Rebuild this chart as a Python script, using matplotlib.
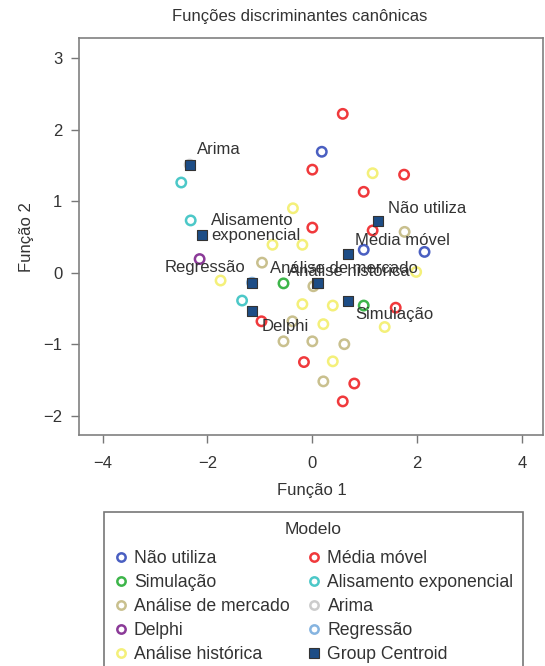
import matplotlib
matplotlib.use("Agg")
import matplotlib.pyplot as plt
from matplotlib.lines import Line2D

plt.rcParams['font.family'] = ['Liberation Sans', 'DejaVu Sans']

# group scores (Função 1, Função 2)
nao_utiliza_x = [0.18, 0.98, 2.14]
nao_utiliza_y = [1.69, 0.32, 0.29]
media_movel_x = [0.58, 0.00, 1.75, 0.98, 0.00, 1.15, -0.97, 1.59, -0.16, 0.80, 0.58]
media_movel_y = [2.22, 1.44, 1.37, 1.13, 0.63, 0.59, -0.68, -0.49, -1.25, -1.55, -1.80]
simulacao_x = [-0.55, 0.98]
simulacao_y = [-0.15, -0.46]
alisamento_x = [-2.50, -2.32, -1.34]
alisamento_y = [1.26, 0.73, -0.39]
mercado_x = [1.76, -0.96, 0.02, -0.38, -0.55, 0.00, 0.61, 0.21]
mercado_y = [0.57, 0.14, -0.19, -0.68, -0.96, -0.96, -1.00, -1.52]
arima_x = [-2.34]
arima_y = [1.51]
delphi_x = [-2.15]
delphi_y = [0.19]
regressao_x = [-1.15]
regressao_y = [-0.14]
historica_x = [-0.37, 1.15, -0.76, -0.19, -1.75, -0.19, 0.39, 0.21, 0.39, 1.38, 1.98]
historica_y = [0.90, 1.39, 0.39, 0.39, -0.11, -0.44, -0.46, -0.72, -1.24, -0.76, 0.01]

# group centroids
centroid_names = ['Arima', 'Alisamento\nexponencial', 'Não utiliza', 'Média móvel',
                  'Regressão', 'Delphi', 'Simulação', 'Análise de mercado', 'Análise histórica']
centroid_x = [-2.34, -2.10, 1.25, 0.68, -1.15, -1.15, 0.68, 0.08, 0.10]
centroid_y = [1.51, 0.53, 0.72, 0.26, -0.14, -0.54, -0.39, -0.15, -0.14]
# label offsets in pixels
label_dx = [7, 9, 10, 7, -7, 10, 7, -47, -30]
label_dy = [15, 7, 13, 14, 15, -15, -14, 15, 11]
label_ha = ['left', 'left', 'left', 'left', 'right', 'left', 'left', 'left', 'left']

groups = [
    ('Não utiliza', nao_utiliza_x, nao_utiliza_y, '#4a5fc1'),
    ('Simulação', simulacao_x, simulacao_y, '#3db54a'),
    ('Análise de mercado', mercado_x, mercado_y, '#c9c08e'),
    ('Delphi', delphi_x, delphi_y, '#8b3a98'),
    ('Análise histórica', historica_x, historica_y, '#f4f07a'),
    ('Média móvel', media_movel_x, media_movel_y, '#f0393c'),
    ('Alisamento exponencial', alisamento_x, alisamento_y, '#4cc8c8'),
    ('Arima', arima_x, arima_y, '#cccccc'),
    ('Regressão', regressao_x, regressao_y, '#86b4e0'),
]
centroid_color = '#1d4d86'

fig = plt.figure(figsize=(5.45, 6.66), dpi=100)
ax = fig.add_axes([0.145, 0.3468, 0.8514, 0.5961])

handles = []
for name, xs, ys, col in groups:
    ax.scatter(xs, ys, s=46, facecolors='none', edgecolors=col, linewidths=1.8, zorder=2)
    handles.append(Line2D([], [], linestyle='none', marker='o', markersize=6,
                          markerfacecolor='none', markeredgecolor=col,
                          markeredgewidth=1.8, label=name))

ax.scatter(centroid_x, centroid_y, s=55, marker='s', color=centroid_color,
           edgecolors='#333333', linewidths=0.8, zorder=3)
handles.append(Line2D([], [], linestyle='none', marker='s', markersize=7,
                      markerfacecolor=centroid_color, markeredgecolor='#333333',
                      markeredgewidth=0.8, label='Group Centroid'))

for name, x, y, dx, dy, ha in zip(centroid_names, centroid_x, centroid_y,
                                  label_dx, label_dy, label_ha):
    ax.annotate(name, (x, y), xytext=(dx, dy), textcoords='offset pixels',
                ha=ha, va='center', fontsize=12, color='#333333',
                linespacing=1.0, zorder=4)

ax.set_xlim(-4.45, 4.4)
ax.set_ylim(-2.27, 3.28)
ax.set_xticks([-4, -2, 0, 2, 4])
ax.set_yticks([-2, -1, 0, 1, 2, 3])
ax.set_xticklabels(['\u22124', '\u22122', '0', '2', '4'])
ax.set_yticklabels(['\u22122', '\u22121', '0', '1', '2', '3'])
ax.tick_params(direction='out', length=6, width=1, color='#777777',
               labelcolor='#333333', labelsize=12)
ax.tick_params(axis='x', pad=9)
ax.tick_params(axis='y', pad=6)
for sp in ax.spines.values():
    sp.set_color('#808080')
    sp.set_linewidth(1.2)

fig.text(312 / 545, 1 - 491 / 666, 'Função 1', ha='center', va='center',
         fontsize=12, color='#333333')
fig.text(27 / 545, 1 - 237 / 666, 'Função 2', ha='center', va='center',
         rotation=90, fontsize=12, color='#333333')
fig.text(300 / 545, 1 - 17 / 666, 'Funções discriminantes canônicas',
         ha='center', va='center', fontsize=12, color='#333333')

leg = fig.legend(handles=handles, ncol=2, title='Modelo', loc='upper center',
                 bbox_to_anchor=(313.5 / 545, 1 - 512 / 666), fontsize=12.7,
                 title_fontsize=12.6, frameon=True, fancybox=False,
                 edgecolor='#555555', handlelength=0.8, handletextpad=0.35,
                 columnspacing=1.0, labelspacing=0.40, borderpad=0.55,
                 borderaxespad=0)
leg.get_frame().set_linewidth(1.2)
# extra room between the legend title and the entries
leg._legend_box.sep = 9.5
for t in leg.get_texts():
    t.set_color('#333333')
leg.get_title().set_color('#333333')

fig.savefig('out.png', dpi=100)
